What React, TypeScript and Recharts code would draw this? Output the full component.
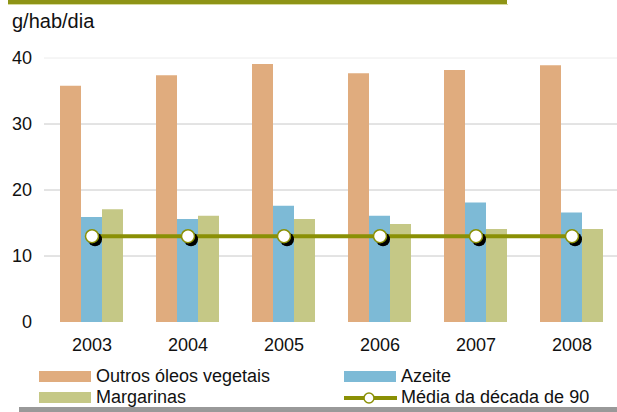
import { ComposedChart, Bar, Line, XAxis, YAxis, CartesianGrid, Legend } from "recharts";

const years = ["2003", "2004", "2005", "2006", "2007", "2008"];
const outrosOleos = [35.8, 37.4, 39.1, 37.7, 38.2, 38.9];
const azeite = [15.9, 15.6, 17.6, 16.1, 18.1, 16.6];
const margarinas = [17.1, 16.1, 15.6, 14.85, 14.1, 14.1];
const mediaDecada90 = [13, 13, 13, 13, 13, 13];
const yTicks = [0, 10, 20, 30, 40];

const data = years.map((year, i) => ({
  year,
  outros: outrosOleos[i],
  azeite: azeite[i],
  margarinas: margarinas[i],
  media: mediaDecada90[i],
}));

const TAN = "#E0AC7E";
const BLUE = "#7DBAD6";
const SAGE = "#C5C886";
const OLIVE = "#8A9005";
const FONT = "'Liberation Sans', Arial, sans-serif";

function ShadowDot(props: any) {
  const { cx, cy } = props;
  if (cx == null || cy == null) return null;
  return (
    <g>
      <circle cx={cx + 3} cy={cy + 3} r={7} fill="#000" />
      <circle cx={cx} cy={cy} r={6.5} fill="#fff" stroke={OLIVE} strokeWidth={1.5} />
    </g>
  );
}

function GridLine(props: any) {
  const { x1, x2, y1, y2 } = props;
  if (y1 > 320) return <g />;
  return <line x1={x1} x2={x2} y1={y1} y2={y2} stroke={y1 < 62 ? "#ececec" : "#c8c8c8"} strokeWidth={1} />;
}

const swatch = (color: string) => (
  <span style={{ display: "inline-block", width: 52, height: 11, background: color, marginRight: 5 }} />
);

const lineIcon = (
  <svg width={53} height={14} style={{ marginRight: 4 }}>
    <line x1={0} x2={53} y1={7} y2={7} stroke={OLIVE} strokeWidth={4} />
    <circle cx={25} cy={7} r={5} fill="#fff" stroke={OLIVE} strokeWidth={1.5} />
  </svg>
);

function LegendBox() {
  const row = { display: "flex", alignItems: "center", height: 21 } as const;
  return (
    <div style={{ position: "relative", width: 617, height: 42, fontFamily: FONT, fontSize: 18, lineHeight: "21px", color: "#111" }}>
      <div style={{ position: "absolute", left: 39, top: 0 }}>
        <div style={row}>{swatch(TAN)}Outros óleos vegetais</div>
        <div style={row}>{swatch(SAGE)}Margarinas</div>
      </div>
      <div style={{ position: "absolute", left: 344, top: 0 }}>
        <div style={row}>{swatch(BLUE)}Azeite</div>
        <div style={row}>{lineIcon}Média da década de 90</div>
      </div>
    </div>
  );
}

export default function App() {
  return (
    <div
      style={{
        position: "absolute",
        left: 0,
        top: 0,
        width: 617,
        height: 412,
        overflow: "hidden",
        background: "#fff",
        fontFamily: FONT,
      }}
    >
      <div style={{ position: "absolute", left: 8, top: 0, width: 499, height: 4, background: "#8E9416" }} />
      <div style={{ position: "absolute", left: 8, top: 4, width: 500, height: 1, background: "#D6DA9E" }} />
      <div style={{ position: "absolute", left: 12, top: 11, fontSize: 20, lineHeight: "20px", color: "#111" }}>
        g/hab/dia
      </div>
      <div style={{ position: "absolute", left: 0, top: 0 }}>
        <ComposedChart
          width={640}
          height={412}
          data={data}
          margin={{ top: 58, right: 20, left: 0, bottom: 52 }}
          barCategoryGap="16.67%"
          barGap={0}
        >
          <CartesianGrid vertical={false} horizontal={GridLine} />
          <XAxis
            dataKey="year"
            height={38}
            axisLine={false}
            tickLine={false}
            tickMargin={10}
            tick={{ fill: "#111", fontSize: 18, fontFamily: FONT }}
          />
          <YAxis
            width={44}
            domain={[0, 40]}
            ticks={yTicks}
            axisLine={false}
            tickLine={false}
            tickMargin={6}
            tick={{ fill: "#111", fontSize: 18, fontFamily: FONT }}
          />
          <Bar dataKey="outros" fill={TAN} isAnimationActive={false} />
          <Bar dataKey="azeite" fill={BLUE} isAnimationActive={false} />
          <Bar dataKey="margarinas" fill={SAGE} isAnimationActive={false} />
          <Line
            dataKey="media"
            stroke={OLIVE}
            strokeWidth={4}
            dot={<ShadowDot />}
            activeDot={false}
            isAnimationActive={false}
          />
          <Legend
            layout="horizontal"
            verticalAlign="middle"
            align="center"
            wrapperStyle={{ top: 366, left: 0, width: 617 }}
            content={() => <LegendBox />}
          />
        </ComposedChart>
      </div>
      <div style={{ position: "absolute", left: 19, top: 407, width: 598, height: 5, background: "#999" }} />
    </div>
  );
}
